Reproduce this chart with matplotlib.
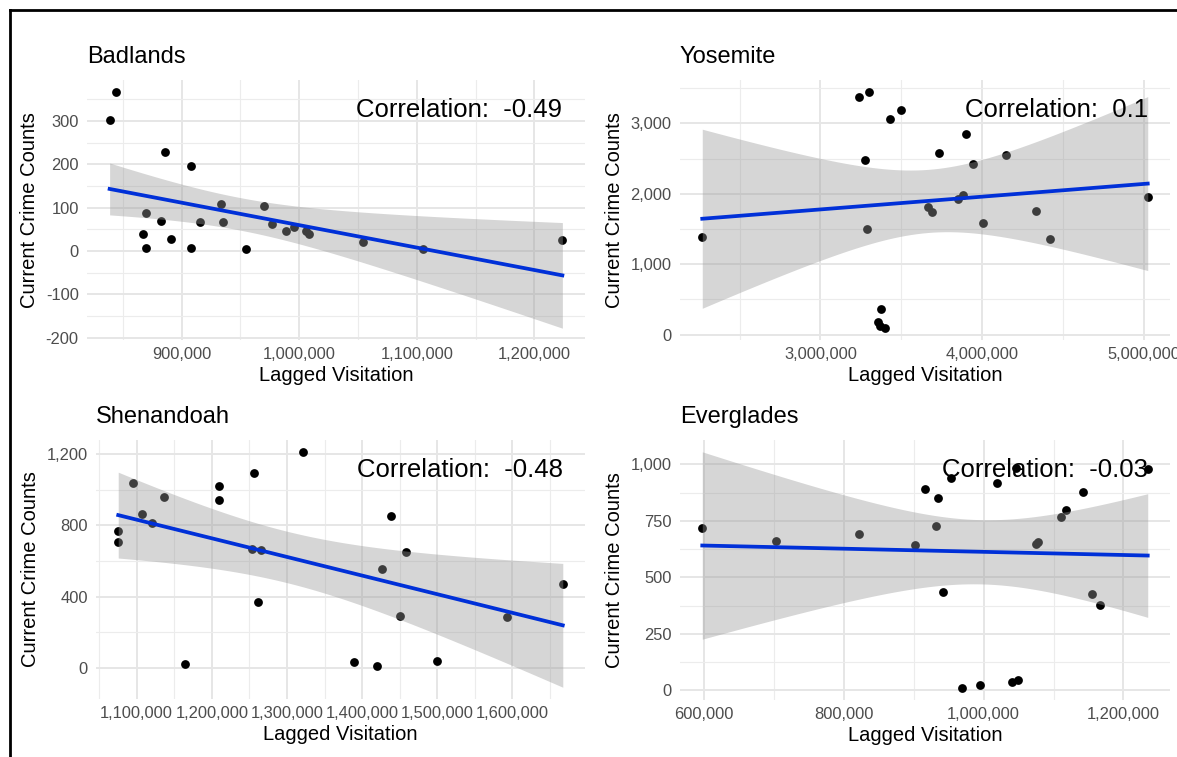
import numpy as np
import matplotlib.pyplot as plt
from matplotlib.lines import Line2D
import matplotlib.transforms as mtransforms

# ---- data (lagged visitation, current crime counts) ----
badlands_x = [838900, 844700, 885600, 908300, 869600, 882400, 867000, 870200,
              891400, 908300, 916000, 933300, 935200, 954700, 970400, 977100,
              988600, 995600, 1005900, 1008400, 1053900, 1105400, 1223700]
badlands_y = [302, 367, 227, 195, 88, 69, 40, 7, 28, 6, 67, 108, 67, 4, 103,
              61, 46, 54, 45, 38, 21, 4, 24]

yosemite_x = [2268500, 3240700, 3303200, 3430600, 3500000, 3277800, 3287000,
              3736100, 3898100, 3666700, 3689800, 3851900, 3879600, 3946800,
              4006900, 4145800, 4333300, 4419000, 5025500, 3375000, 3358800,
              3370400, 3400500]
yosemite_y = [1381, 3373, 3450, 3067, 3187, 2475, 1505, 2585, 2852, 1811, 1744,
              1921, 1988, 2422, 1581, 2547, 1758, 1352, 1954, 368, 172, 119, 91]

shenandoah_x = [1075500, 1075500, 1094500, 1107000, 1121000, 1136500, 1164000,
                1210000, 1209500, 1255500, 1253500, 1265000, 1261000, 1322000,
                1389500, 1420000, 1426000, 1438000, 1459000, 1450000, 1499500,
                1593000, 1667000]
shenandoah_y = [770, 707, 1037, 865, 813, 961, 24, 1022, 940, 1093, 667, 664,
                368, 1213, 32, 11, 557, 850, 652, 292, 41, 288, 471]

everglades_x = [597700, 702900, 822100, 901200, 915600, 934800, 931600, 942300,
                954000, 969000, 995200, 1018700, 1040100, 1049700, 1047000,
                1074800, 1078000, 1110600, 1118100, 1142200, 1155600, 1166300,
                1234700]
everglades_y = [719, 663, 694, 642, 892, 849, 728, 435, 941, 10, 25, 919, 36,
                46, 982, 649, 656, 766, 796, 877, 425, 377, 978]

titles = ['Badlands', 'Yosemite', 'Shenandoah', 'Everglades']
corr_labels = ['Correlation:  -0.49', 'Correlation:  0.1',
               'Correlation:  -0.48', 'Correlation:  -0.03']

badlands_xticks = [900000, 1000000, 1100000, 1200000]
badlands_yticks = [-200, -100, 0, 100, 200, 300]
yosemite_xticks = [3000000, 4000000, 5000000]
yosemite_yticks = [0, 1000, 2000, 3000]
shenandoah_xticks = [1100000, 1200000, 1300000, 1400000, 1500000, 1600000]
shenandoah_yticks = [0, 400, 800, 1200]
everglades_xticks = [600000, 800000, 1000000, 1200000]
everglades_yticks = [0, 250, 500, 750, 1000]

W, H = 1177, 757
plt.rcParams['font.family'] = ['Liberation Sans', 'DejaVu Sans']

T_975 = 2.080  # t quantile, df = 21


def fmt(v):
    return '{:,}'.format(v)


def lm_band(x, y):
    '''Linear fit and 95% confidence band, like geom_smooth(method="lm").'''
    x = np.asarray(x, float)
    y = np.asarray(y, float)
    n = len(x)
    b, a = np.polyfit(x, y, 1)
    resid = y - (a + b * x)
    s = np.sqrt(np.sum(resid ** 2) / (n - 2))
    sxx = np.sum((x - x.mean()) ** 2)
    xs = np.linspace(x.min(), x.max(), 80)
    fit = a + b * xs
    se = s * np.sqrt(1.0 / n + (xs - x.mean()) ** 2 / sxx)
    return xs, fit, fit - T_975 * se, fit + T_975 * se


def panel(box, x, y, title, label, xticks, yticks):
    l, t, r, b = box
    ax = fig.add_axes([l / W, 1 - b / H, (r - l) / W, (b - t) / H])
    xs, fit, lo, hi = lm_band(x, y)
    ax.scatter(x, y, s=40, color='black', zorder=2, linewidths=0)
    ax.fill_between(xs, lo, hi, color='#999999', alpha=0.4, linewidth=0,
                    zorder=3)
    ax.plot(xs, fit, color='#0030D8', lw=2.7, zorder=4)
    ax.margins(0.05)
    ax.autoscale_view()
    xlim = ax.get_xlim()
    ylim = ax.get_ylim()

    ax.set_xticks(xticks)
    ax.set_xticklabels([fmt(v) for v in xticks])
    ax.set_yticks(yticks)
    ax.set_yticklabels([fmt(v) for v in yticks])
    xstep = xticks[1] - xticks[0]
    ystep = yticks[1] - yticks[0]
    ax.set_xticks(np.arange(xticks[0] - 5 * xstep - xstep / 2,
                            xticks[-1] + 5 * xstep, xstep), minor=True)
    ax.set_yticks(np.arange(yticks[0] - 5 * ystep - ystep / 2,
                            yticks[-1] + 5 * ystep, ystep), minor=True)
    ax.set_xlim(xlim)
    ax.set_ylim(ylim)
    ax.grid(which='major', color='#e6e6e6', lw=1.4, zorder=0)
    ax.grid(which='minor', color='#ececec', lw=0.8, zorder=0)
    ax.set_axisbelow(True)
    ax.tick_params(which='both', length=0, labelsize=11.9,
                   labelcolor='#4d4d4d')
    ax.tick_params(axis='y', pad=6)
    ax.tick_params(axis='x', pad=5)
    for sp in ax.spines.values():
        sp.set_visible(False)

    ax.set_xlabel('Lagged Visitation', fontsize=14.5, labelpad=3)
    ax.set_ylabel('Current Crime Counts', fontsize=14.5, labelpad=5)
    ax.text(0, 1 + 23.0 / (b - t), title, transform=ax.transAxes,
            fontsize=17, ha='left', va='center')
    trans = mtransforms.blended_transform_factory(ax.transData, ax.transAxes)
    ax.text(max(x), 1 - 30.0 / (b - t), label, transform=trans,
            fontsize=18.5, ha='right', va='center', zorder=6)
    return ax


fig = plt.figure(figsize=(W / 100, H / 100), dpi=100)

panel((87, 80, 585, 340), badlands_x, badlands_y, titles[0],
      corr_labels[0], badlands_xticks, badlands_yticks)
panel((680, 80, 1170, 340), yosemite_x, yosemite_y, titles[1],
      corr_labels[1], yosemite_xticks, yosemite_yticks)
panel((96, 440, 585, 699), shenandoah_x, shenandoah_y, titles[2],
      corr_labels[2], shenandoah_xticks, shenandoah_yticks)
panel((680, 440, 1170, 700), everglades_x, everglades_y, titles[3],
      corr_labels[3], everglades_xticks, everglades_yticks)

# black frame on the top and left edges, as in the screenshot
fig.add_artist(Line2D([10 / W, 10 / W], [0, 1 - 10 / H], color='black',
                      lw=2, transform=fig.transFigure))
fig.add_artist(Line2D([10 / W, 1], [1 - 10 / H, 1 - 10 / H], color='black',
                      lw=2, transform=fig.transFigure))

fig.savefig('out.png', dpi=100)
